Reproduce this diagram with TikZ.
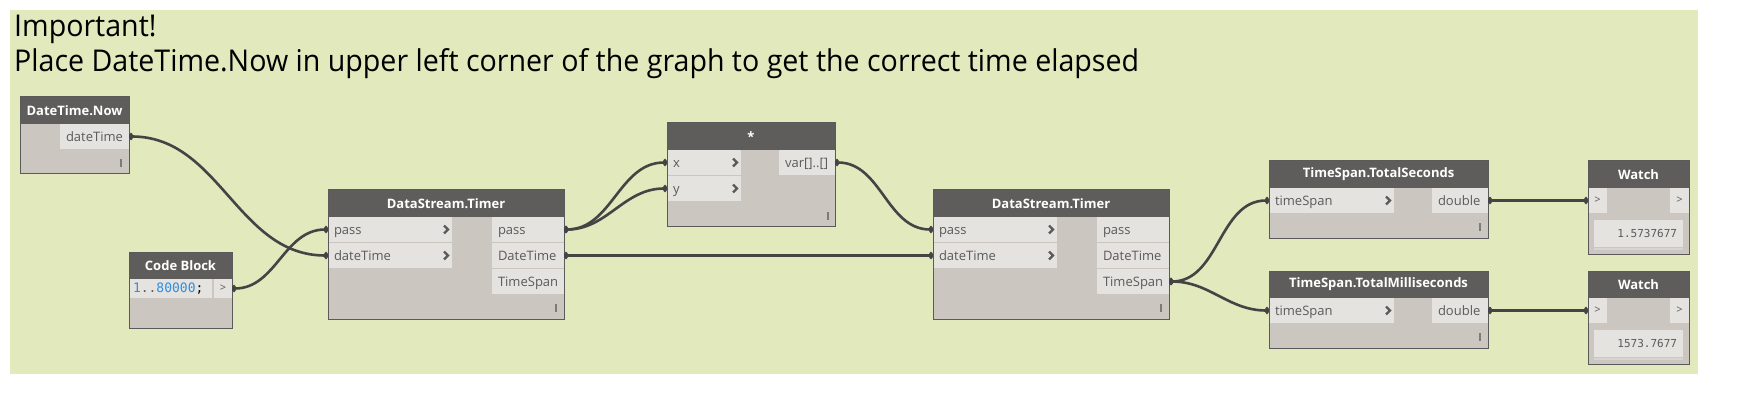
\documentclass[tikz,border=0pt]{standalone}
\usepackage{fontspec}
\setmainfont{Open Sans}
\setmonofont{DejaVu Sans Mono}
\usepackage{xcolor}
\usetikzlibrary{arrows.meta, positioning, calc}
\definecolor{dynbg}{HTML}{E1E9BD}
\definecolor{dynhead}{HTML}{5E5D5B}
\definecolor{dynbody}{HTML}{CBC6C0}
\definecolor{dyncell}{HTML}{E5E3DF}
\definecolor{dynframe}{HTML}{5A5A5A}
\definecolor{dyntext}{HTML}{5A5A5A}
\definecolor{dynwire}{HTML}{444444}
\definecolor{dynbar}{HTML}{D8D5D1}
\definecolor{codeblue}{HTML}{2F8DE4}
\newfontfamily\titlefont[FakeStretch=0.953]{Open Sans}
\newcommand{\cellfont}{\fontsize{13}{15}\selectfont}

\begin{document}
\begin{tikzpicture}[x=1pt, y=-1pt,
    body/.style={fill=dynbody, inner sep=0pt, outer sep=0pt, anchor=north west},
    head/.style={fill=dynhead, text=white, minimum width=#1, minimum height=27pt,
                 inner sep=0pt, outer sep=0pt, anchor=north west,
                 font=\cellfont\bfseries},
    cell/.style={fill=dyncell, text=dyntext, font=\cellfont, text width=#1,
                 align=left, inner xsep=6pt, inner ysep=0pt, outer sep=0pt,
                 minimum height=25pt, text height=12pt, text depth=2pt,
                 anchor=north west},
    incell/.style={cell=#1,
                 path picture={\draw[chev] ($(path picture bounding box.east)+(-8,-4)$)
                               -- ++(4,4) -- ++(-4,4);}},
    chev/.style={draw=dyntext, line width=2.2pt},
    tiny/.style={fill=dyncell, text=dyntext, font=\fontsize{11}{13}\selectfont,
                 minimum width=19pt, minimum height=25pt, inner sep=0pt, outer sep=0pt},
    valbox/.style={fill=dyncell, text=dyntext, font=\ttfamily\fontsize{11}{13}\selectfont,
                 text width=77pt, align=right, inner xsep=6pt, inner ysep=0pt,
                 minimum height=27pt, outer sep=0pt},
    lacing/.style={fill=dyntext!80, minimum width=1.2pt, minimum height=8pt, inner sep=0pt},
    frame/.style={draw=dynframe, line width=1pt},
    wire/.style={draw=dynwire, line width=2.6pt, out=0, in=180,
                 arrows={Circle[length=4pt,width=7pt]-Circle[length=4pt,width=7pt]}},
    title/.style={font=\titlefont\fontsize{30}{34}\selectfont, inner sep=0pt, anchor=base west},
  ]
  \fill[white] (0,0) rectangle (1750,406);
  \fill[dynbg] (10,10) rectangle (1698,374);

  \node[title] (imp) at (14,37) {Important!};
  \node[title] (place) at (14,72) {Place DateTime.Now in upper left corner of the graph to get the correct time elapsed};

  % DateTime.Now
  \node[body, minimum width=109pt, minimum height=77pt] (now) at (20,97) {};
  \node[head=109pt] (now-h) at (now.north west) {DateTime.Now};
  \node[cell=57pt, anchor=north east] (now-dt) at (now-h.south east) {dateTime};
  \node[lacing] at ([xshift=-8pt, yshift=11pt]now.south east) {};

  % Code Block
  \node[body, minimum width=103pt, minimum height=76pt] (code) at (129,252) {};
  \node[head=103pt] (code-h) at (code.north west) {Code Block};
  \node[cell=75pt, inner xsep=4pt, minimum height=19pt, text height=10pt, text depth=3pt,
        font=\ttfamily\fontsize{13}{15}\selectfont, text=black] (code-txt) at (code-h.south west)
        {\textcolor{codeblue}{1}\textcolor{dyntext}{..}\textcolor{codeblue}{80000};};
  \node[tiny, minimum width=18pt, minimum height=19pt, anchor=north east] (code-o) at (code-h.south east) {>};

  % first DataStream.Timer
  \node[body, minimum width=236pt, minimum height=129pt] (tA) at (328,190) {};
  \node[head=236pt] (tA-h) at (tA.north west) {DataStream.Timer};
  \node[incell=112pt] (tA-pass) at (tA-h.south west) {pass};
  \node[incell=112pt, below right=1pt and 0pt of tA-pass.south west] (tA-dt) {dateTime};
  \node[cell=60pt, anchor=north east] (tA-opass) at (tA-h.south east) {pass};
  \node[cell=60pt, below left=1pt and 0pt of tA-opass.south east] (tA-odt) {DateTime};
  \node[cell=60pt, below left=1pt and 0pt of tA-odt.south east] (tA-ots) {TimeSpan};
  \node[lacing] at ([xshift=-8pt, yshift=11pt]tA.south east) {};

  % multiplication
  \node[body, minimum width=168pt, minimum height=103pt] (mul) at (667,123) {};
  \node[head=168pt] (mul-h) at (mul.north west) {*};
  \node[incell=62pt] (mul-x) at (mul-h.south west) {x};
  \node[incell=62pt, below right=1pt and 0pt of mul-x.south west] (mul-y) {y};
  \node[cell=44pt, anchor=north east] (mul-var) at (mul-h.south east) {var[]..[]};
  \node[lacing] at ([xshift=-7pt, yshift=10pt]mul.south east) {};

  % second DataStream.Timer
  \node[body, minimum width=236pt, minimum height=129pt] (tB) at (933,190) {};
  \node[head=236pt] (tB-h) at (tB.north west) {DataStream.Timer};
  \node[incell=112pt] (tB-pass) at (tB-h.south west) {pass};
  \node[incell=112pt, below right=1pt and 0pt of tB-pass.south west] (tB-dt) {dateTime};
  \node[cell=60pt, anchor=north east] (tB-opass) at (tB-h.south east) {pass};
  \node[cell=60pt, below left=1pt and 0pt of tB-opass.south east] (tB-odt) {DateTime};
  \node[cell=60pt, below left=1pt and 0pt of tB-odt.south east] (tB-ots) {TimeSpan};
  \node[lacing] at ([xshift=-8pt, yshift=11pt]tB.south east) {};

  % TimeSpan nodes
  \node[body, minimum width=219pt, minimum height=77pt] (tsec) at (1269,161) {};
  \node[head=219pt] (tsec-h) at (tsec.north west) {TimeSpan.TotalSeconds};
  \node[incell=113pt] (tsec-in) at (tsec-h.south west) {timeSpan};
  \node[cell=44pt, anchor=north east] (tsec-out) at (tsec-h.south east) {double};
  \node[lacing] at ([xshift=-8pt, yshift=11pt]tsec.south east) {};

  \node[body, minimum width=219pt, minimum height=77pt] (tms) at (1269,271) {};
  \node[head=219pt] (tms-h) at (tms.north west) {TimeSpan.TotalMilliseconds};
  \node[incell=113pt] (tms-in) at (tms-h.south west) {timeSpan};
  \node[cell=44pt, anchor=north east] (tms-out) at (tms-h.south east) {double};
  \node[lacing] at ([xshift=-8pt, yshift=11pt]tms.south east) {};

  % Watch nodes
  \node[body, minimum width=101pt, minimum height=93pt] (wA) at (1588,161) {};
  \node[head=101pt] (wA-h) at (wA.north west) {Watch};
  \node[tiny, anchor=north west] (wA-in) at (wA-h.south west) {>};
  \node[tiny, anchor=north east] (wA-out) at (wA-h.south east) {>};
  \node[valbox, below=32pt of wA-h.south] (wA-v) {1.5737677};
  \draw[dynbar, line width=2pt] ([yshift=-2pt]wA-v.south west) -- ([yshift=-2pt]wA-v.south east);

  \node[body, minimum width=101pt, minimum height=93pt] (wB) at (1588,271) {};
  \node[head=101pt] (wB-h) at (wB.north west) {Watch};
  \node[tiny, anchor=north west] (wB-in) at (wB-h.south west) {>};
  \node[tiny, anchor=north east] (wB-out) at (wB-h.south east) {>};
  \node[valbox, below=32pt of wB-h.south] (wB-v) {1573.7677};
  \draw[dynbar, line width=2pt] ([yshift=-2pt]wB-v.south west) -- ([yshift=-2pt]wB-v.south east);

  \foreach \n in {now, code, tA, mul, tB, tsec, tms, wA, wB}
    \draw[frame] (\n.north west) rectangle (\n.south east);

  % wires
  \draw[wire] (now-dt.east) to (tA-dt.west);
  \draw[wire] (code-o.east) to (tA-pass.west);
  \draw[wire] (tA-opass.east) to (mul-x.west);
  \draw[wire] (tA-opass.east) to (mul-y.west);
  \draw[wire] (mul-var.east) to (tB-pass.west);
  \draw[wire] (tA-odt.east) to (tB-dt.west);
  \draw[wire] (tB-ots.east) to (tsec-in.west);
  \draw[wire] (tB-ots.east) to (tms-in.west);
  \draw[wire] (tsec-out.east) to (wA-in.west);
  \draw[wire] (tms-out.east) to (wB-in.west);
\end{tikzpicture}
\end{document}
